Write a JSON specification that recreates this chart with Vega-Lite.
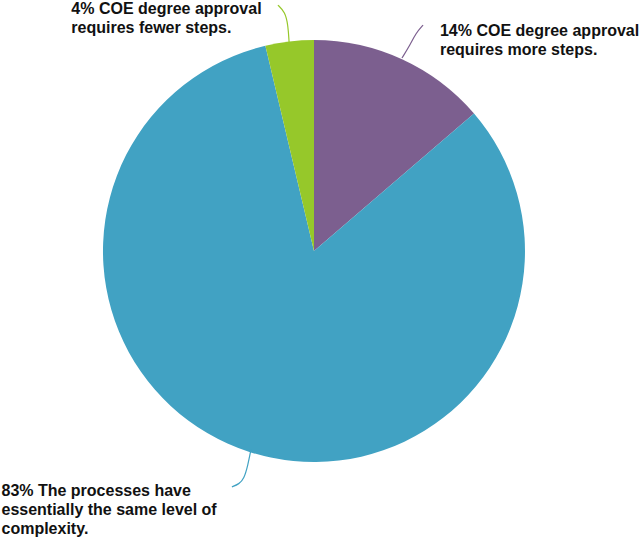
{
  "$schema": "https://vega.github.io/schema/vega-lite/v6.json",
  "width": 640,
  "height": 539,
  "autosize": {"type": "fit", "contains": "padding"},
  "padding": 0,
  "background": "white",
  "config": {"view": {"stroke": null}},
  "datasets": {
    "slices": [
      {"category": "14% COE degree approval requires more steps.", "share": 13.7, "ord": 1},
      {"category": "83% The processes have essentially the same level of complexity.", "share": 82.6, "ord": 2},
      {"category": "4% COE degree approval requires fewer steps.", "share": 3.7, "ord": 3}
    ],
    "labels": [
      {"series": "more", "px": 59.7, "py": 102.1, "label": ["14% COE degree approval", "requires more steps."]},
      {"series": "same", "px": -148.1, "py": -116.1, "label": ["83% The processes have", "essentially the same level of", "complexity."]},
      {"series": "fewer", "px": -115.0, "py": 112.2, "label": ["4% COE degree approval", "requires fewer steps."]}
    ],
    "leaders": [
      {"series": "more", "i": 1, "px": 51.7, "py": 107.1},
      {"series": "more", "i": 2, "px": 48.3, "py": 103.3},
      {"series": "more", "i": 3, "px": 45.5, "py": 97.6},
      {"series": "more", "i": 4, "px": 41.7, "py": 91.5},
      {"series": "same", "i": 1, "px": -29.9, "py": -94.3},
      {"series": "same", "i": 2, "px": -31.3, "py": -101.4},
      {"series": "same", "i": 3, "px": -33.2, "py": -108.1},
      {"series": "same", "i": 4, "px": -35.5, "py": -110.4},
      {"series": "same", "i": 5, "px": -38.9, "py": -111.8},
      {"series": "fewer", "i": 1, "px": -17.1, "py": 116.6},
      {"series": "fewer", "i": 2, "px": -13.7, "py": 113.3},
      {"series": "fewer", "i": 3, "px": -12.3, "py": 107.1},
      {"series": "fewer", "i": 4, "px": -11.8, "py": 99.1}
    ]
  },
  "layer": [
    {
      "data": {"name": "slices"},
      "mark": {"type": "arc", "outerRadius": 211, "stroke": null},
      "encoding": {
        "x": {"datum": 0, "type": "quantitative", "scale": {"domain": [-148.8, 154.5], "nice": false, "zero": false}, "axis": null},
        "y": {"datum": 0, "type": "quantitative", "scale": {"domain": [-136.5, 119.0], "nice": false, "zero": false}, "axis": null},
        "theta": {"field": "share", "type": "quantitative", "stack": true},
        "order": {"field": "ord", "type": "quantitative"},
        "color": {
          "field": "category", "type": "nominal", "legend": null,
          "sort": {"field": "ord"},
          "scale": {"domain": ["14% COE degree approval requires more steps.", "83% The processes have essentially the same level of complexity.", "4% COE degree approval requires fewer steps."], "range": ["#7c5f8f", "#41a2c3", "#96c82a"]}
        }
      }
    },
    {
      "data": {"name": "leaders"},
      "mark": {"type": "line", "interpolate": "basis", "strokeWidth": 1.2},
      "encoding": {
        "x": {"field": "px", "type": "quantitative", "axis": null},
        "y": {"field": "py", "type": "quantitative", "axis": null},
        "order": {"field": "i", "type": "quantitative"},
        "detail": {"field": "series"},
        "stroke": {"field": "series", "type": "nominal", "legend": null, "scale": {"domain": ["more", "same", "fewer"], "range": ["#7c5f8f", "#41a2c3", "#96c82a"]}}
      }
    },
    {
      "data": {"name": "labels"},
      "mark": {"type": "text", "align": "left", "baseline": "alphabetic", "font": "Liberation Sans", "fontWeight": "bold", "fontSize": 16, "lineHeight": 19, "color": "#111111"},
      "encoding": {
        "x": {"field": "px", "type": "quantitative", "axis": null},
        "y": {"field": "py", "type": "quantitative", "axis": null},
        "text": {"field": "label"}
      }
    }
  ]
}
